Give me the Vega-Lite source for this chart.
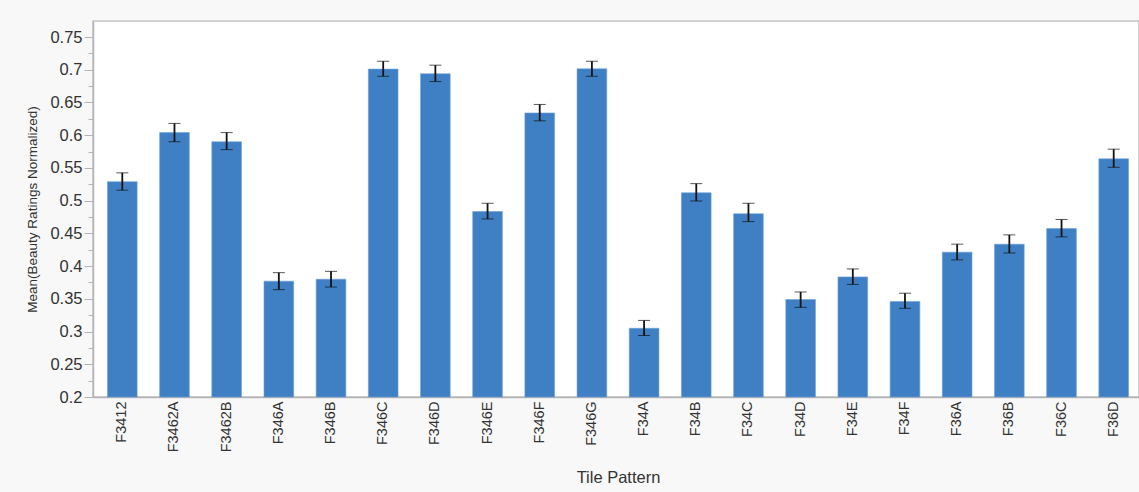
{
  "$schema": "https://vega.github.io/schema/vega-lite/v6.json",
  "autosize": "none",
  "padding": {"left": 93, "top": 21, "right": 0, "bottom": 95},
  "width": 1046,
  "height": 376,
  "background": "#f8f8f8",
  "config": {
    "font": "Liberation Sans",
    "view": {"fill": "#ffffff", "stroke": "#c4c4c4", "strokeWidth": 1.5},
    "axis": {
      "labelColor": "#333333",
      "titleColor": "#333333",
      "titleFontWeight": "normal",
      "domainColor": "#b4b4b4",
      "tickColor": "#b4b4b4",
      "grid": false
    }
  },
  "data": {
    "values": [
      {"pattern": "F3412", "mean": 0.529, "lo": 0.516, "hi": 0.5425},
      {"pattern": "F3462A", "mean": 0.604, "lo": 0.59, "hi": 0.618},
      {"pattern": "F3462B", "mean": 0.59, "lo": 0.578, "hi": 0.604},
      {"pattern": "F346A", "mean": 0.377, "lo": 0.364, "hi": 0.39},
      {"pattern": "F346B", "mean": 0.38, "lo": 0.368, "hi": 0.392},
      {"pattern": "F346C", "mean": 0.701, "lo": 0.69, "hi": 0.713},
      {"pattern": "F346D", "mean": 0.694, "lo": 0.682, "hi": 0.707},
      {"pattern": "F346E", "mean": 0.4835, "lo": 0.472, "hi": 0.496},
      {"pattern": "F346F", "mean": 0.634, "lo": 0.622, "hi": 0.647},
      {"pattern": "F346G", "mean": 0.7015, "lo": 0.69, "hi": 0.713},
      {"pattern": "F34A", "mean": 0.305, "lo": 0.294, "hi": 0.317},
      {"pattern": "F34B", "mean": 0.512, "lo": 0.4995, "hi": 0.526},
      {"pattern": "F34C", "mean": 0.48, "lo": 0.468, "hi": 0.496},
      {"pattern": "F34D", "mean": 0.349, "lo": 0.337, "hi": 0.3605},
      {"pattern": "F34E", "mean": 0.3835, "lo": 0.372, "hi": 0.3957},
      {"pattern": "F34F", "mean": 0.346, "lo": 0.3355, "hi": 0.3586},
      {"pattern": "F36A", "mean": 0.4213, "lo": 0.4095, "hi": 0.4335},
      {"pattern": "F36B", "mean": 0.4335, "lo": 0.42, "hi": 0.4477},
      {"pattern": "F36C", "mean": 0.4575, "lo": 0.4446, "hi": 0.4712},
      {"pattern": "F36D", "mean": 0.564, "lo": 0.551, "hi": 0.5787}
    ]
  },
  "encoding": {
    "x": {
      "field": "pattern",
      "type": "nominal",
      "sort": null,
      "scale": {"range": [0, 1050], "paddingInner": 0.431, "paddingOuter": 0.277},
      "axis": {
        "title": "Tile Pattern",
        "titleFontSize": 16.5,
        "titlePadding": 18,
        "labelAngle": 270,
        "labelAlign": "right",
        "labelBaseline": "middle",
        "labelFontSize": 14.5,
        "labelPadding": 4,
        "ticks": false,
        "domainWidth": 1.5
      }
    }
  },
  "layer": [
    {
      "mark": {"type": "bar", "color": "#3f80c5", "stroke": "#6fa0d6", "strokeWidth": 0.6},
      "encoding": {
        "y": {
          "field": "mean",
          "type": "quantitative",
          "scale": {"domain": [0.2, 0.7745], "nice": false, "zero": false},
          "axis": {
            "title": "Mean(Beauty Ratings Normalized)",
            "titleFontSize": 13.5,
            "titlePadding": 10,
            "values": [0.2, 0.25, 0.3, 0.35, 0.4, 0.45, 0.5, 0.55, 0.6, 0.65, 0.7, 0.75],
            "format": "~g",
            "labelFontSize": 16.5,
            "labelPadding": 2,
            "tickSize": 9,
            "domainWidth": 1.5
          }
        },
        "y2": {"datum": 0.2}
      }
    },
    {
      "mark": {"type": "errorbar", "ticks": {"size": 12, "color": "#111111", "strokeWidth": 1.8}, "rule": {"color": "#111111", "strokeWidth": 1.8}},
      "encoding": {
        "y": {
          "field": "lo",
          "type": "quantitative",
          "axis": {
            "orient": "left",
            "title": null,
            "labels": false,
            "domain": false,
            "tickSize": 5,
            "values": [0.225, 0.275, 0.325, 0.375, 0.425, 0.475, 0.525, 0.575, 0.625, 0.675, 0.725, 0.775]
          }
        },
        "y2": {"field": "hi"}
      }
    }
  ],
  "resolve": {"axis": {"y": "independent"}}
}
